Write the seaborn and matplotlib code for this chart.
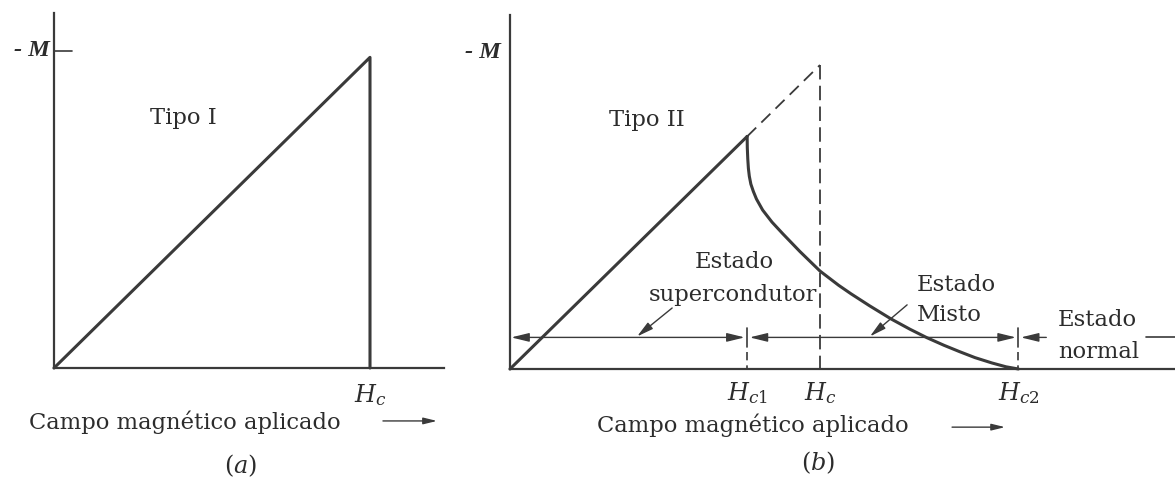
import matplotlib
matplotlib.use("Agg")
import matplotlib.pyplot as plt
import seaborn as sns
import pandas as pd

# ---- data (field in units of Hc, magnetisation in units of the -M reference) ----
M_REF = 1.0

# Type I superconductor
type1_field = [0.0, 1.0, 1.0]
type1_m = [0.0, 0.98, 0.0]

# Type II superconductor
HC1, HC, HC2 = 0.765, 1.0, 1.64
meissner_slope = 0.962
meissner_field = [0.0, HC1]
meissner_m = [0.0, meissner_slope * HC1]
extension_field = [HC1, HC]
extension_m = [meissner_slope * HC1, meissner_slope * HC]
mixed_field = [0.765, 0.7655, 0.767, 0.769, 0.772, 0.777, 0.785, 0.795, 0.815,
               0.845, 0.88, 0.935, 1.0, 1.06, 1.10, 1.16, 1.23, 1.29, 1.345,
               1.40, 1.45, 1.50, 1.555, 1.60, 1.64]
mixed_m = [0.736, 0.70, 0.665, 0.635, 0.61, 0.585, 0.562, 0.538, 0.503,
           0.465, 0.428, 0.372, 0.31, 0.265, 0.238, 0.200, 0.158, 0.126, 0.099,
           0.075, 0.055, 0.036, 0.019, 0.007, 0.0]
STATE_LEVEL = 0.1

sns.set_theme(style="white")
plt.rcParams["font.family"] = ["DejaVu Serif"]
plt.rcParams["mathtext.fontset"] = "dejavuserif"

INK = "#3a3a3a"
TXT = "#2c2c2c"
FS = 16.3

fig = plt.figure(figsize=(11.75, 4.8), dpi=100)
ax_a = fig.add_axes([54 / 1175, 112 / 480, 390 / 1175, 355 / 480])
ax_b = fig.add_axes([510 / 1175, 111 / 480, 665 / 1175, 354 / 480])
ax_a.set_xlim(0, 390 / 316)
ax_a.set_ylim(0, 355 / 317)
ax_b.set_xlim(0, 665 / 310)
ax_b.set_ylim(0, 354 / 316)

for ax in (ax_a, ax_b):
    sns.despine(ax=ax)
    for s in ("left", "bottom"):
        ax.spines[s].set_color(INK)
        ax.spines[s].set_linewidth(1.6)
    ax.set_xticks([])
    ax.set_yticks([])
    ax.set_xlabel("")
    ax.set_ylabel("")
    ax.patch.set_alpha(0)


def line(ax, xs, ys, **kw):
    df = pd.DataFrame({"H": xs, "M": ys})
    sns.lineplot(data=df, x="H", y="M", ax=ax, estimator=None, sort=False,
                 color=INK, clip_on=False, solid_joinstyle="round", **kw)


def arrow(ax, start, end, style="-|>", lw=1.0, scale=12):
    ax.annotate("", xy=end, xytext=start, annotation_clip=False,
                arrowprops=dict(arrowstyle=f"{style},head_length=0.9,head_width=0.22",
                                color=INK, lw=lw, shrinkA=0, shrinkB=0,
                                mutation_scale=scale))


# ---------------- panel (a): Tipo I ----------------
line(ax_a, type1_field, type1_m, lw=2.2)
line(ax_a, [0.0, 0.057], [M_REF, M_REF], lw=1.2)
ax_a.text(-0.013, M_REF, "- M", ha="right", va="center", fontsize=17.5,
          family="Liberation Serif", fontweight="bold", style="italic", color=TXT)
ax_a.text(0.408, 0.789, "Tipo I", ha="center", va="center", fontsize=FS, color=TXT)
ax_a.text(1.0, -0.085, "$H_c$", ha="center", va="center", fontsize=FS + 1, color=TXT)
ax_a.text(0.413, -0.17, "Campo magnético aplicado", ha="center", va="center",
          fontsize=FS, color=TXT)
arrow(ax_a, (1.041, -0.167), (1.212, -0.167), lw=1.0, scale=9)
ax_a.text(0.589, -0.309, "$(a)$", ha="center", va="center", fontsize=FS + 1, color=TXT)

# ---------------- panel (b): Tipo II ----------------
line(ax_b, meissner_field, meissner_m, lw=2.2)
line(ax_b, extension_field, extension_m, lw=1.3, dashes=(7, 4))
line(ax_b, [HC, HC], [meissner_slope * HC, 0.0], lw=1.3, dashes=(8, 3.5))
line(ax_b, mixed_field, mixed_m, lw=2.2)

# state ranges along the field axis
for hx in (HC1, HC2):
    line(ax_b, [hx, hx], [STATE_LEVEL + 0.03, STATE_LEVEL - 0.03], lw=1.2)
    line(ax_b, [hx, hx], [STATE_LEVEL - 0.045, 0.0], lw=1.2, dashes=(5, 3))
arrow(ax_b, (0.004, STATE_LEVEL), (HC1 - 0.008, STATE_LEVEL), style="<|-|>")
arrow(ax_b, (HC1 + 0.008, STATE_LEVEL), (HC2 - 0.008, STATE_LEVEL), style="<|-|>")
arrow(ax_b, (1.73, STATE_LEVEL), (HC2 + 0.008, STATE_LEVEL))
line(ax_b, [2.05, 2.145], [STATE_LEVEL, STATE_LEVEL], lw=1.2)

ax_b.text(-0.03, M_REF, "- M", ha="right", va="center", fontsize=17.5,
          family="Liberation Serif", fontweight="bold", style="italic", color=TXT)
ax_b.text(0.442, 0.788, "Tipo II", ha="center", va="center", fontsize=FS, color=TXT)

ax_b.text(0.725, 0.339, "Estado", ha="center", va="center", fontsize=FS, color=TXT)
ax_b.text(0.72, 0.234, "supercondutor", ha="center", va="center", fontsize=FS, color=TXT)
arrow(ax_b, (0.523, 0.193), (0.41, STATE_LEVEL + 0.003), scale=11)

ax_b.text(1.313, 0.266, "Estado", ha="left", va="center", fontsize=FS, color=TXT)
ax_b.text(1.313, 0.171, "Misto", ha="left", va="center", fontsize=FS, color=TXT)
arrow(ax_b, (1.281, 0.203), (1.161, STATE_LEVEL + 0.003), scale=11)

ax_b.text(1.768, 0.155, "Estado", ha="left", va="center", fontsize=FS, color=TXT)
ax_b.text(1.768, 0.054, "normal", ha="left", va="center", fontsize=FS, color=TXT)

for hx, lab in ((HC1, "$H_{c1}$"), (HC, "$H_c$"), (HC2, "$H_{c2}$")):
    ax_b.text(hx, -0.076, lab, ha="center", va="center", fontsize=FS + 1, color=TXT)
ax_b.text(0.784, -0.177, "Campo magnético aplicado", ha="center", va="center",
          fontsize=FS, color=TXT)
arrow(ax_b, (1.426, -0.184), (1.597, -0.184), lw=1.0, scale=9)
ax_b.text(0.994, -0.297, "$(b)$", ha="center", va="center", fontsize=FS + 1, color=TXT)

fig.savefig("out.png", dpi=100, facecolor="white")
